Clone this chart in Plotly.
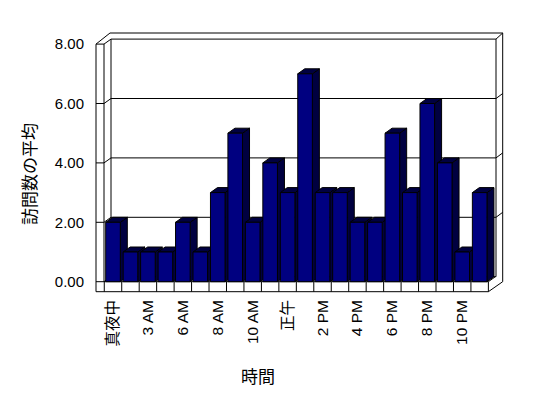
import plotly.graph_objects as go

# ---- data ----
categories = ["真夜中", "1 AM", "3 AM", "4 AM", "6 AM", "7 AM", "8 AM", "9 AM",
              "10 AM", "11 AM", "正午", "1 PM", "2 PM", "3 PM", "4 PM", "5 PM",
              "6 PM", "7 PM", "8 PM", "9 PM", "10 PM", "11 PM"]
values = [2, 1, 1, 1, 2, 1, 3, 5, 2, 4, 3, 7, 3, 3, 2, 2, 5, 3, 6, 4, 1, 3]
y_ticks = [0, 2, 4, 6, 8]
y_tick_labels = ["0.00", "2.00", "4.00", "6.00", "8.00"]
x_title = "時間"
y_title = "訪問数の平均"

# ---- geometry (pixel calibration of the axes) ----
W, H = 548, 398
CX0, CSTEP = 113.0, 17.46      # pixel of category 0 centre, pixels per category
VY0, VSTEP = 281.7, 29.7       # pixel of value 0, pixels per unit
PL, PR, PT, PB = 90, 508, 28, 296   # plot area in pixels


def ux(px):
    return (px - CX0) / CSTEP


def uy(py):
    return (VY0 - py) / VSTEP


BW = 14.6 / CSTEP          # bar width
DXD = 7.0 / CSTEP          # depth offset x
DYD = 5.0 / VSTEP          # depth offset y

x_idx = list(range(len(values)))

shapes = []
LINE = dict(color="black", width=1)


def seg(x0, y0, x1, y1):
    shapes.append(dict(type="line", xref="x", yref="y", x0=x0, y0=y0, x1=x1, y1=y1,
                       line=LINE, layer="below"))


# back wall gridlines
for v in y_ticks[1:]:
    seg(ux(111), v + DYD, ux(496), v + DYD)
# left wall ticks
for v in y_ticks:
    seg(ux(96), v, ux(104), v)
    seg(ux(104), v, ux(111), v + DYD)
# right wall ticks
for v in y_ticks[1:-1]:
    seg(ux(496), v + DYD, ux(502.7), v + 2 * DYD)

top_front = y_ticks[-1]
# frame
seg(ux(96), uy(291.7), ux(96), top_front)
seg(ux(104), 0, ux(104), top_front)
seg(ux(96), top_front, ux(110), uy(33))
seg(ux(110), uy(33), ux(502.7), uy(33))
seg(ux(111), top_front + DYD, ux(111), DYD)
seg(ux(496), top_front + DYD, ux(496), DYD)
seg(ux(496), top_front + DYD, ux(502.7), uy(33))
seg(ux(502.7), uy(33), ux(502.7), 0)
seg(ux(111), DYD, ux(496), DYD)
# floor
xl, xr = -0.5, len(values) - 0.5
seg(xl, 0, xr, 0)
seg(ux(96), uy(291.7), xr, uy(291.7))
seg(xr, 0, xr, uy(291.7))
seg(xr, uy(291.7), ux(502.7), 0)
seg(xr, 0, xr + DXD, DYD)
for k in range(len(values)):
    seg(k - 0.5, 0, k - 0.5, uy(291.7))

# 3D faces of bars (side and top), from the data
DARK = "#000040"
for i, v in zip(x_idx, values):
    r = i + BW / 2
    l = i - BW / 2
    side = f"M {r},0 L {r + DXD},{DYD} L {r + DXD},{v + DYD} L {r},{v} Z"
    top = f"M {l},{v} L {l + DXD},{v + DYD} L {r + DXD},{v + DYD} L {r},{v} Z"
    for p in (side, top):
        shapes.append(dict(type="path", xref="x", yref="y", path=p,
                           fillcolor=DARK, line=LINE, layer="below"))

fig = go.Figure()
fig.add_trace(go.Bar(x=x_idx, y=values, width=BW,
                     marker=dict(color="#000080", line=dict(color="black", width=1)),
                     hoverinfo="skip"))

FONT = "Liberation Sans, Arial, Noto Sans CJK JP"
CJK = "Noto Sans CJK JP, Liberation Sans"

fig.update_layout(
    width=W, height=H,
    margin=dict(l=PL, r=W - PR, t=PT, b=H - PB, pad=0),
    paper_bgcolor="white", plot_bgcolor="white",
    showlegend=False,
    font=dict(family=FONT, size=15, color="black"),
    shapes=shapes,
    xaxis=dict(range=[ux(PL), ux(PR)], showgrid=False, zeroline=False, showline=False,
               tickmode="array", tickvals=x_idx[::2],
               ticktext=categories[::2],
               tickangle=-90, ticks="",
               tickfont=dict(family=FONT, size=15.5, color="black")),
    yaxis=dict(range=[uy(PB), uy(PT)], showgrid=False, zeroline=False, showline=False,
               tickmode="array", tickvals=y_ticks, ticktext=y_tick_labels,
               ticks="outside", ticklen=2, tickcolor="rgba(0,0,0,0)",
               tickfont=dict(family=FONT, size=15, color="black")),
    annotations=[
        dict(text=x_title, xref="paper", yref="paper",
             x=(258 - PL) / (PR - PL), y=(PB - 375) / (PB - PT),
             xanchor="center", yanchor="middle", showarrow=False,
             font=dict(family=CJK, size=17, color="black")),
        dict(text=y_title, xref="paper", yref="paper", textangle=-90,
             x=(28 - PL) / (PR - PL), y=(PB - 174) / (PB - PT),
             xanchor="center", yanchor="middle", showarrow=False,
             font=dict(family=CJK, size=17, color="black")),
    ],
)

fig.write_html("out.html", config={"displayModeBar": False},
               post_script="document.body.style.margin='0';document.body.style.padding='0';")
